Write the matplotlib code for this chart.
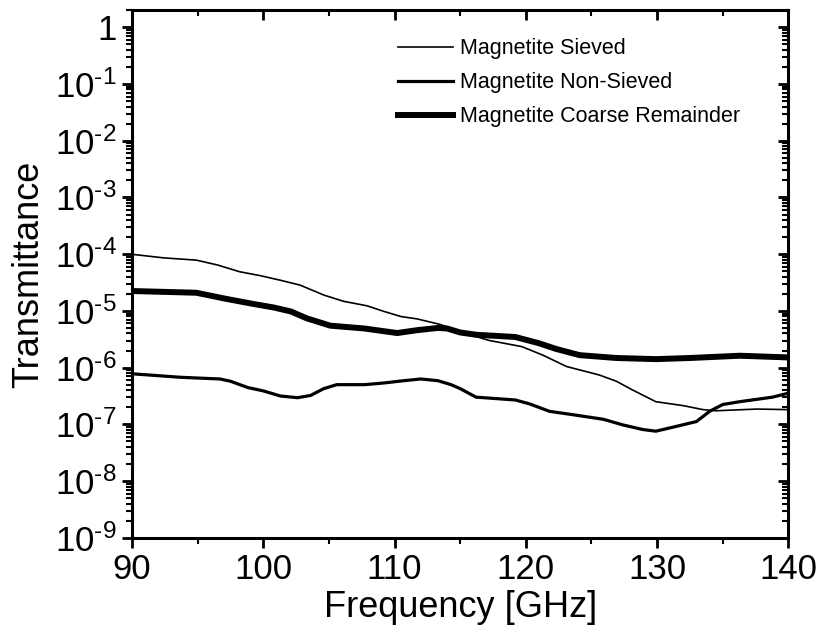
import numpy as np
import matplotlib
matplotlib.use('Agg')
import matplotlib.pyplot as plt
from matplotlib.ticker import LogLocator, FuncFormatter, MultipleLocator, NullFormatter

plt.rcParams['font.family'] = 'Liberation Sans'
plt.rcParams['mathtext.fontset'] = 'custom'
plt.rcParams['mathtext.rm'] = 'Liberation Sans'
plt.rcParams['mathtext.default'] = 'regular'

# values (frequency in GHz, log10 of transmittance)
f_sieved = [90.1, 92.4, 94.9, 96.5, 98.2, 99.8, 101.3, 102.8, 104.6, 106.1, 107.9, 109.2,
            110.5, 111.7, 113.5, 115.0, 117.2, 119.7, 121.3, 123.1, 125.6, 126.9, 128.1,
            129.9, 132.0, 133.5, 134.5, 137.6, 140]
lg_sieved = [-4.005, -4.065, -4.105, -4.19, -4.31, -4.38, -4.46, -4.545, -4.72, -4.83, -4.91,
             -5.01, -5.10, -5.14, -5.24, -5.37, -5.52, -5.63, -5.78, -5.98, -6.13, -6.24,
             -6.39, -6.60, -6.67, -6.74, -6.76, -6.73, -6.74]

f_nonsieved = [90.1, 93.7, 96.7, 97.5, 98.8, 100.0, 101.3, 102.6, 103.6, 104.6, 105.6, 107.7,
               109.2, 110.7, 112.0, 113.3, 114.3, 115.0, 116.2, 119.2, 120.3, 121.8, 123.6,
               125.9, 127.4, 128.9, 129.9, 131.2, 133.0, 134.0, 135.0, 136.3, 138.8, 140]
lg_nonsieved = [-6.11, -6.17, -6.20, -6.24, -6.35, -6.41, -6.50, -6.53, -6.49, -6.37, -6.30,
                -6.30, -6.27, -6.23, -6.20, -6.23, -6.30, -6.37, -6.52, -6.57, -6.64, -6.77,
                -6.83, -6.91, -7.01, -7.09, -7.12, -7.05, -6.95, -6.77, -6.65, -6.60, -6.52,
                -6.45]

f_coarse = [90.1, 94.9, 97.0, 99.3, 100.8, 102.1, 103.3, 105.1, 107.7, 110.2, 111.7, 113.3,
            114.0, 115.0, 116.2, 119.2, 121.0, 122.3, 124.1, 126.9, 129.9, 132.5, 136.3, 140]
lg_coarse = [-4.65, -4.68, -4.78, -4.88, -4.94, -5.01, -5.13, -5.26, -5.31, -5.39, -5.34, -5.30,
             -5.31, -5.38, -5.42, -5.46, -5.57, -5.67, -5.78, -5.83, -5.85, -5.83, -5.79, -5.82]

labels = ['Magnetite Sieved', 'Magnetite Non-Sieved', 'Magnetite Coarse Remainder']

fig = plt.figure(figsize=(8.36, 6.35), dpi=100)
ax = fig.add_axes([0.158, 0.153, 0.785, 0.831])

style = dict(color='black', solid_joinstyle='round')
ax.plot(f_sieved, 10 ** np.array(lg_sieved), lw=1.2, label=labels[0], **style)
ax.plot(f_nonsieved, 10 ** np.array(lg_nonsieved), lw=2.3, label=labels[1], **style)
ax.plot(f_coarse, 10 ** np.array(lg_coarse), lw=4.3, label=labels[2], **style)

ax.set_yscale('log')
ax.set_xlim(90, 140)
ax.set_ylim(1e-9, 2)

def fmt(v, pos):
    e = int(round(np.log10(v)))
    if e == 0:
        return '1'
    return r'$10^{\text{-}%d}$' % abs(e)

ax.yaxis.set_major_locator(LogLocator(base=10, numticks=30))
ax.yaxis.set_minor_locator(LogLocator(base=10, subs=np.arange(2, 10), numticks=100))
ax.yaxis.set_major_formatter(FuncFormatter(fmt))
ax.yaxis.set_minor_formatter(NullFormatter())
ax.xaxis.set_major_locator(MultipleLocator(10))
ax.xaxis.set_minor_locator(MultipleLocator(5))

for s in ax.spines.values():
    s.set_linewidth(2.2)
ax.tick_params(which='major', direction='out', length=7, width=2, labelsize=25, pad=4)
ax.tick_params(which='minor', direction='out', length=4, width=1.5)

# mirrored ticks on the top and right, pointing inwards
axt = ax.twiny()
axt.set_xlim(ax.get_xlim())
axt.xaxis.set_major_locator(MultipleLocator(10))
axt.xaxis.set_minor_locator(MultipleLocator(5))
axt.tick_params(which='major', direction='in', length=7, width=2, labeltop=False)
axt.tick_params(which='minor', direction='in', length=4, width=1.5)
axr = ax.twinx()
axr.set_yscale('log')
axr.set_ylim(ax.get_ylim())
axr.yaxis.set_major_locator(LogLocator(base=10, numticks=30))
axr.yaxis.set_minor_locator(LogLocator(base=10, subs=np.arange(2, 10), numticks=100))
axr.tick_params(which='major', direction='in', length=7, width=2, labelright=False)
axr.tick_params(which='minor', direction='in', length=4, width=1.5)
axr.yaxis.set_minor_formatter(NullFormatter())

ax.set_xlabel('Frequency [GHz]', fontsize=26, labelpad=3)
ax.set_ylabel('Transmittance', fontsize=26, labelpad=6)

ax.legend(loc='upper left', bbox_to_anchor=(0.405, 0.947), frameon=False, fontsize=15.5,
          handlelength=2.55, handletextpad=0.33, labelspacing=0.61, borderaxespad=0,
          borderpad=0)

fig.savefig('out.png', dpi=100)
